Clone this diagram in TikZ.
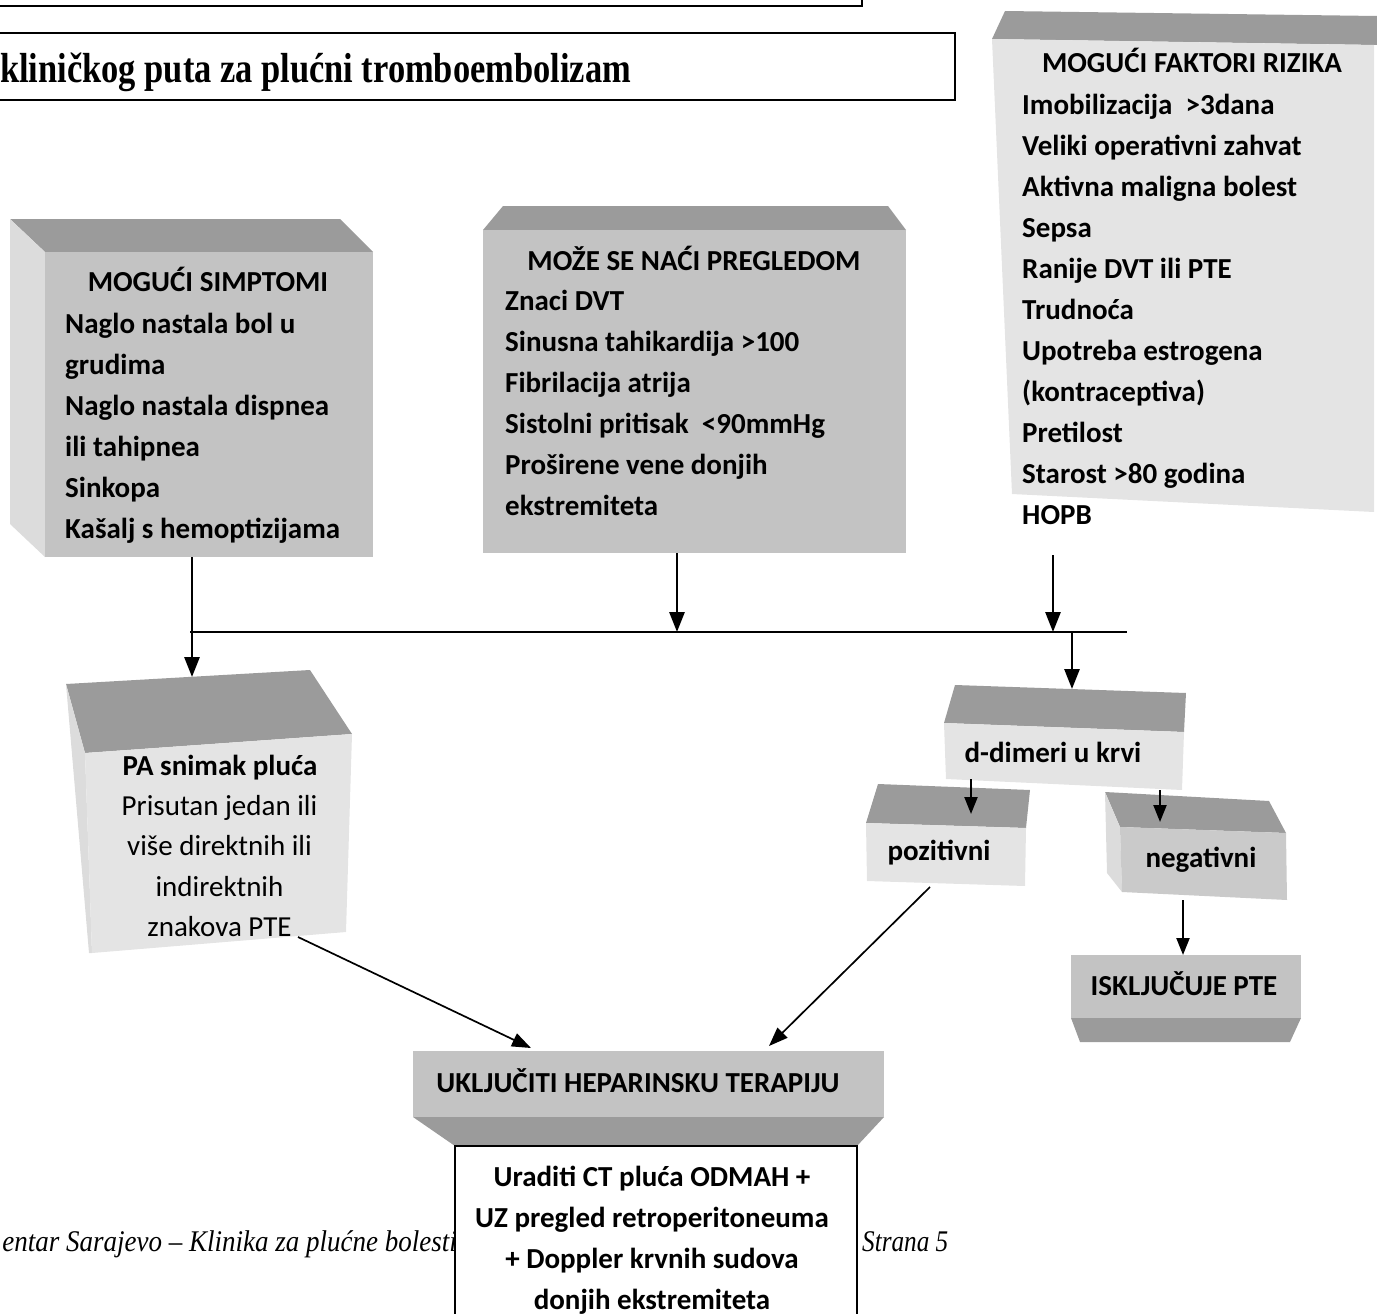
\documentclass[tikz,border=0pt]{standalone}
\usepackage{fontspec}
\setmainfont{Carlito}
\newfontfamily\tnr{Liberation Serif}
\usetikzlibrary{arrows.meta}
\definecolor{topg}{HTML}{9B9B9B}
\definecolor{midg}{HTML}{C3C3C3}
\definecolor{lig}{HTML}{E4E4E4}
\definecolor{sideg}{HTML}{DCDCDC}
\tikzset{
  topface/.style={fill=topg, draw=none},
  midface/.style={fill=midg, draw=none},
  ligface/.style={fill=lig, draw=none},
  sideface/.style={fill=sideg, draw=none},
  frame/.style={draw=black, line width=1.7pt},
  lbl/.style={font=\fontsize{29}{41}\selectfont\bfseries, inner sep=0pt},
  lst/.style={font=\fontsize{29}{41}\selectfont\bfseries, inner sep=0pt, align=left, anchor=north west},
  plain/.style={font=\fontsize{29}{40.5}\selectfont, inner sep=0pt, align=center, anchor=north},
  arr/.style={line width=2.8pt, -{Triangle[length=20pt 0 0,width=15pt 0 0]}},
  sarr/.style={line width=2.2pt, -{Triangle[length=17pt 0 0,width=13pt 0 0]}},
  darr/.style={line width=1.7pt, -{Triangle[length=19pt 0 0,width=14pt 0 0]}},
  bus/.style={line width=2.1pt},
}
\begin{document}
\begin{tikzpicture}[x=1pt,y=-1pt]
\useasboundingbox (0,0) rectangle (1377,1314);

% footer (behind boxes)
\node[anchor=base east, inner sep=0pt] (footL) at (457,1251)
  {\scalebox{0.9}[1]{\tnr\itshape\fontsize{30}{30}\selectfont entar Sarajevo – Klinika za plućne bolesti}};
\node[anchor=base west, inner sep=0pt] (footR) at (862,1251)
  {\scalebox{0.84}[1]{\tnr\itshape\fontsize{30}{30}\selectfont Strana 5}};

% top frames
\draw[frame] (-5,-10) rectangle (862,6);
\draw[frame] (-5,33) rectangle (955,100);
\node[anchor=base west, inner sep=0pt] (title) at (0,83)
  {\scalebox{0.82}[1]{\tnr\bfseries\fontsize{42}{42}\selectfont kliničkog puta za plućni tromboembolizam}};

% Box 1: MOGUĆI SIMPTOMI
\fill[topface] (10,219) -- (340,219) -- (373,252) -- (45,252) -- cycle;
\fill[sideface] (10,219) -- (45,252) -- (45,557) -- (10,524) -- cycle;
\fill[midface] (45,252) rectangle (373,557);
\node[lbl, anchor=base] (t1) at (208,291) {MOGUĆI SIMPTOMI};
\node[lst] (l1) at (65,308) {\rule{0pt}{25pt}Naglo nastala bol u\\grudima\\Naglo nastala dispnea\\ili tahipnea\\Sinkopa\\Kašalj s hemoptizijama};

% Box 2: MOŽE SE NAĆI PREGLEDOM
\fill[topface] (503,206) -- (888,206) -- (906,230) -- (483,230) -- cycle;
\fill[midface] (483,230) rectangle (906,553);
\node[lbl, anchor=base] (t2) at (694,270) {MOŽE SE NAĆI PREGLEDOM};
\node[lst] (l2) at (505,285) {\rule{0pt}{25pt}Znaci DVT\\Sinusna tahikardija >100\\Fibrilacija atrija\\Sistolni pritisak~ <90mmHg\\Proširene vene donjih\\ekstremiteta};

% Box 3: MOGUĆI FAKTORI RIZIKA
\fill[topface] (1005,11) -- (1377,16) -- (1377,45) -- (992,39) -- cycle;
\fill[ligface] (992,39) -- (1374,45) -- (1374,512) -- (1012,494) -- cycle;
\node[lbl, anchor=base] (t3) at (1192,73) {MOGUĆI FAKTORI RIZIKA};
\node[lst] (l3) at (1022,89) {\rule{0pt}{25pt}Imobilizacija~ >3dana\\Veliki operativni zahvat\\Aktivna maligna bolest\\Sepsa\\Ranije DVT ili PTE\\Trudnoća\\Upotreba estrogena\\(kontraceptiva)\\Pretilost\\Starost >80 godina\\HOPB};

% Box 4: PA snimak pluća
\fill[topface] (66,684) -- (310,670) -- (352,734) -- (85,753) -- cycle;
\fill[sideface] (66,684) -- (85,753) -- (92,953) -- (89,953) -- cycle;
\fill[ligface] (85,753) -- (352,734) -- (346,932) -- (92,953) -- cycle;
\node[lbl, anchor=base] (t4) at (220,775) {PA snimak pluća};
\node[plain] (l4) at (219.5,790) {\rule{0pt}{25pt}Prisutan jedan ili\\više direktnih ili\\indirektnih\\znakova PTE};

% Box 5: d-dimeri u krvi
\fill[topface] (955,685) -- (1186,693) -- (1184,732) -- (944,723) -- cycle;
\fill[ligface] (944,723) -- (1184,732) -- (1182,790) -- (946,779) -- cycle;
\node[lbl, anchor=base] (t5) at (1053,762) {d-dimeri u krvi};

% Box 6: pozitivni
\fill[topface] (878,784) -- (1030,790) -- (1026,828) -- (866,823) -- cycle;
\fill[ligface] (866,823) -- (1026,828) -- (1025,886) -- (867,881) -- cycle;
\node[lbl, anchor=base] (t6) at (939,860) {pozitivni};

% Box 7: negativni
\fill[topface] (1105,792) -- (1269,801) -- (1286,833) -- (1120,827) -- cycle;
\fill[sideface] (1105,792) -- (1120,827) -- (1122,892) -- (1107,873) -- cycle;
\fill[fill=midg!80!lig] (1120,827) -- (1286,833) -- (1287,900) -- (1122,892) -- cycle;
\node[lbl, anchor=base] (t7) at (1201,867) {negativni};

% Box 8: ISKLJUČUJE PTE
\fill[midface] (1071,955) rectangle (1301,1018);
\fill[topface] (1071,1018) -- (1301,1018) -- (1290,1042) -- (1080,1042) -- cycle;
\node[lbl, anchor=base] (t8) at (1184,995) {ISKLJUČUJE PTE};

% Box 9: UKLJUČITI HEPARINSKU TERAPIJU
\fill[midface] (413,1051) rectangle (884,1117);
\fill[topface] (413,1117) -- (884,1117) -- (857,1146) -- (455,1146) -- cycle;
\node[lbl, anchor=base] (t9) at (638,1092) {UKLJUČITI HEPARINSKU TERAPIJU};

% Box 10: white box
\filldraw[fill=white, frame] (455,1146) rectangle (857,1330);
\node[lbl, align=center, anchor=north] (l10) at (652,1161) {\rule{0pt}{25pt}Uraditi CT pluća ODMAH +\\UZ pregled retroperitoneuma\\+ Doppler krvnih sudova\\donjih ekstremiteta};

% connector points
\coordinate (s1) at (192,557);
\coordinate (pa) at (192,677);
\coordinate (s2) at (677,553);
\coordinate (j2) at (677,632);
\coordinate (s3) at (1053,555);
\coordinate (j3) at (1053,632);
\coordinate (busL) at (190,632);
\coordinate (busR) at (1127,632);
\coordinate (j4) at (1072,632);
\coordinate (dd) at (1072,689);
\coordinate (ddL) at (971,779);
\coordinate (pozT) at (971,814);
\coordinate (ddR) at (1160,790);
\coordinate (negT) at (1160,822);
\coordinate (negB) at (1183,900);
\coordinate (iskT) at (1183,955);
\coordinate (paB) at (298,937);
\coordinate (ukL) at (531,1048);
\coordinate (pozB) at (930,887);
\coordinate (ukR) at (769,1046);

\draw[bus] (busL) -- (busR);
\draw[arr] (s1) -- (pa);
\draw[arr] (s2) -- (j2);
\draw[arr] (s3) -- (j3);
\draw[arr] (j4) -- (dd);
\draw[sarr] (ddL) -- (pozT);
\draw[sarr] (ddR) -- (negT);
\draw[sarr] (negB) -- (iskT);
\draw[darr] (paB) -- (ukL);
\draw[darr] (pozB) -- (ukR);
\end{tikzpicture}
\end{document}
